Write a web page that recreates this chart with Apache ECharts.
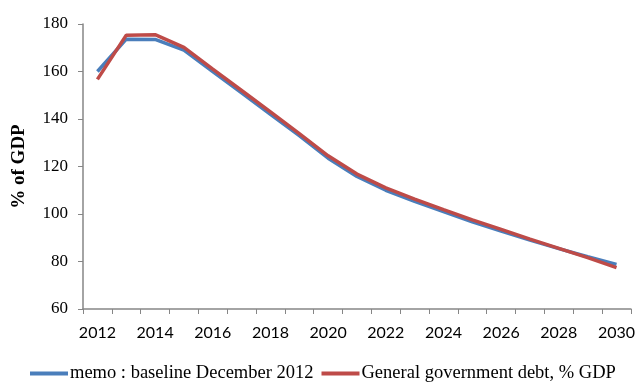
<!DOCTYPE html>
<html>
<head>
<meta charset="utf-8">
<script src="https://cdn.jsdelivr.net/npm/echarts@6/dist/echarts.min.js"></script>
<style>
  html, body { margin: 0; padding: 0; background: #fff; }
  #main { width: 638px; height: 383px; }
</style>
</head>
<body>
<div id="main"></div>
<script>
// years on the x axis
const years = ['2012', '2013', '2014', '2015', '2016', '2017', '2018', '2019', '2020', '2021',
  '2022', '2023', '2024', '2025', '2026', '2027', '2028', '2029', '2030'];

// memo : baseline December 2012
const baseline = [160, 173.6, 173.5, 169, 160, 151, 142, 133, 123.5, 115.8,
  110, 105.3, 101, 96.7, 92.8, 89, 85.4, 82, 78.8];

// General government debt, % GDP
const debt = [156.7, 175.3, 175.5, 170.2, 161, 152, 143, 133.8, 124.5, 116.8,
  111, 106.3, 101.8, 97.5, 93.5, 89.4, 85.5, 81.6, 77.4];

const myChart = echarts.init(document.getElementById('main'));

const axisGrey = '#868686';

const option = {
  backgroundColor: '#ffffff',
  animation: false,
  grid: { left: 83, right: 4, top: 24, bottom: 74 },
  legend: {
    top: 359,
    left: 25,
    itemWidth: 38,
    itemHeight: 4,
    itemGap: 8,
    icon: 'rect',
    data: ['memo : baseline December 2012', 'General government debt, % GDP'],
    textStyle: { fontFamily: 'Liberation Serif', fontSize: 18.5, color: '#000', padding: [0, 0, 0, -3] },
  },
  xAxis: {
    type: 'category',
    data: years,
    boundaryGap: true,
    axisLine: { lineStyle: { color: axisGrey, width: 1.5 } },
    axisTick: { show: true, length: 5, interval: 0, lineStyle: { color: axisGrey } },
    axisLabel: {
      interval: 1,
      margin: 16,
      color: '#000',
      fontFamily: 'Lato',
      fontSize: 16,
    },
  },
  yAxis: {
    type: 'value',
    min: 60,
    max: 180,
    interval: 20,
    name: '% of GDP',
    nameLocation: 'middle',
    nameGap: 54,
    nameTextStyle: { fontFamily: 'Liberation Serif', fontWeight: 'bold', fontSize: 19, color: '#000' },
    axisLine: { show: true, lineStyle: { color: axisGrey, width: 1.5 } },
    axisTick: { show: true, length: 5, lineStyle: { color: axisGrey } },
    splitLine: { show: false },
    axisLabel: {
      margin: 15,
      color: '#000',
      fontFamily: 'Liberation Serif',
      fontSize: 17,
    },
  },
  series: [
    {
      name: 'memo : baseline December 2012',
      type: 'line',
      data: baseline,
      symbol: 'none',
      lineStyle: { color: '#4a7ebb', width: 3.5 },
      itemStyle: { color: '#4a7ebb' },
    },
    {
      name: 'General government debt, % GDP',
      type: 'line',
      data: debt,
      symbol: 'none',
      lineStyle: { color: '#be4b48', width: 3.5 },
      itemStyle: { color: '#be4b48' },
    },
  ],
};

myChart.setOption(option);
</script>
</body>
</html>
